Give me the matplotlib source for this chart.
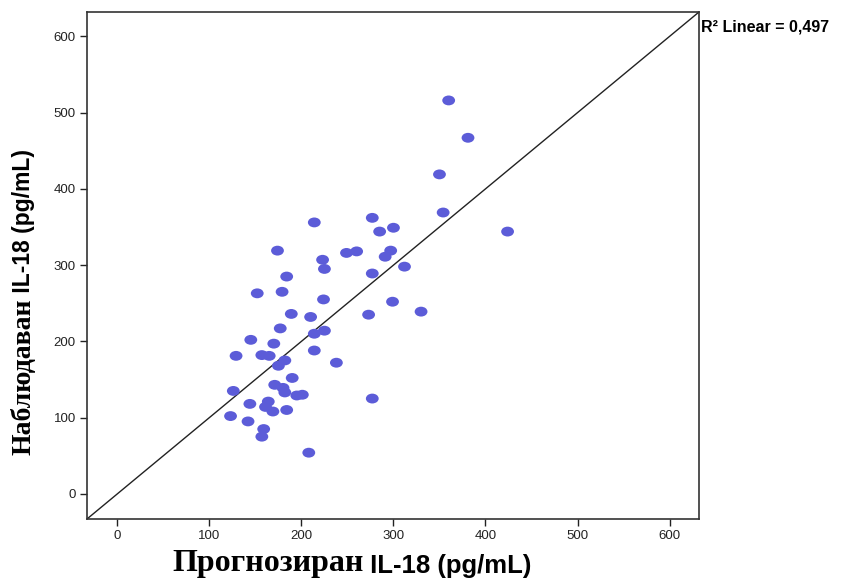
import matplotlib.pyplot as plt
from matplotlib.path import Path

# predicted vs observed IL-18, pg/mL
predicted = [360, 381, 350, 354, 424, 214, 277, 285, 300, 174, 223, 225, 249, 260,
             297, 291, 277, 312, 184, 152, 179, 224, 299, 330, 273, 189, 210, 177,
             214, 225, 145, 170, 214, 129, 157, 165, 182, 175, 238, 190, 126, 171,
             180, 182, 195, 201, 277, 144, 164, 161, 169, 184, 123, 142, 159, 157, 208]
observed = [516, 467, 419, 369, 344, 356, 362, 344, 349, 319, 307, 295, 316, 318,
            319, 311, 289, 298, 285, 263, 265, 255, 252, 239, 235, 236, 232, 217,
            210, 214, 202, 197, 188, 181, 182, 181, 175, 168, 172, 152, 135, 143,
            139, 133, 129, 130, 125, 118, 121, 114, 108, 110, 102, 95, 85, 75, 54]
ticks = [0, 100, 200, 300, 400, 500, 600]
r2_label = "R² Linear = 0,497"
lo, hi = -33, 632

plt.rcParams['font.family'] = ['Liberation Sans', 'DejaVu Sans']

# slightly flattened circle, like the SPSS default marker
circ = Path.unit_circle()
ellipse = Path(circ.vertices * [1.3, 1.0], circ.codes)

fig = plt.figure(figsize=(8.51, 5.79), dpi=100)
ax = fig.add_axes([0.1022, 0.1036, 0.7192, 0.8757])

ax.plot([lo, hi], [lo, hi], color='#222222', lw=1.0, zorder=1)
ax.scatter(predicted, observed, marker=ellipse, s=85, color='#5c5cd8',
           edgecolors='none', zorder=2)

ax.set_xlim(lo, hi)
ax.set_ylim(lo, hi)
ax.set_xticks(ticks)
ax.set_yticks(ticks)
ax.tick_params(direction='out', length=5, width=1.0, labelsize=9.5, pad=3,
               colors='#222222')
for sp in ax.spines.values():
    sp.set_linewidth(1.2)
    sp.set_color('#333333')

ax.text(1.003, 0.97, r2_label, transform=ax.transAxes, fontsize=11.5,
        fontweight='bold', ha='left', va='center')

# axis titles: Cyrillic part in a serif face, the rest in sans
tx = fig.text(0.2021, 0.0138, "Прогнозиран", family='Liberation Serif',
              fontweight='bold', fontsize=23, ha='left', va='baseline')
ax.annotate(" IL-18 (pg/mL)", xy=(1, 0), xycoords=tx, xytext=(0, 0),
            textcoords='offset points', fontsize=18.5, fontweight='bold',
            ha='left', va='bottom', annotation_clip=False)

ty = fig.text(0.028, 0.214, "Наблюдаван", family='Liberation Serif',
              fontweight='bold', fontsize=20, rotation=90, ha='left',
              va='center', rotation_mode='anchor')
ax.annotate(" IL-18 (pg/mL)", xy=(0.5, 1), xycoords=ty, xytext=(0, 0),
            textcoords='offset points', fontsize=16.5, fontweight='bold',
            rotation=90, ha='center', va='bottom', annotation_clip=False)

fig.savefig('out.png', dpi=100)
